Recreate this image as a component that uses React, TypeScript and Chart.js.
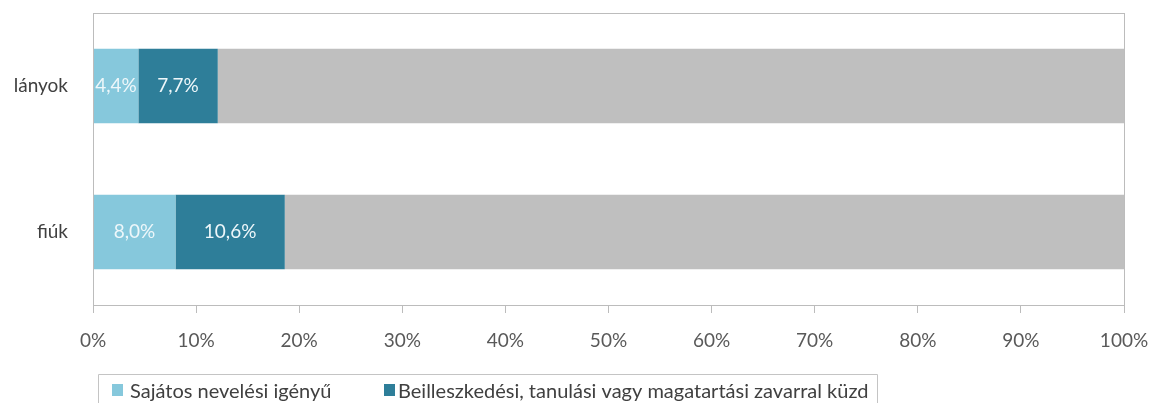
import React, { useEffect, useRef } from "react";
import { Chart, registerables } from "chart.js";

Chart.register(...registerables);

const categories = ["lányok", "fiúk"];
const seriesNames = [
  "Sajátos nevelési igényű",
  "Beilleszkedési, tanulási vagy magatartási zavarral küzd",
];
const sniValues = [4.4, 8.0];
const btmValues = [7.7, 10.6];
const restValues = [87.9, 81.4];
const xTickValues = [0, 10, 20, 30, 40, 50, 60, 70, 80, 90, 100];

const COLORS = ["#86c8dc", "#2e7e99", "#bfbfbf"];
const FONT = "Lato, 'Open Sans', sans-serif";
const FS = 19;
const LEGEND_FS = 20;

const fmt = (v: number) => v.toFixed(1).replace(".", ",") + "%";

const zeroPad = (scale: any) => {
  scale.paddingTop = 0;
  scale.paddingBottom = 0;
  scale.paddingLeft = 0;
  scale.paddingRight = 0;
};

const plotBorder = {
  id: "plotBorder",
  afterDatasetsDraw(chart: any) {
    const { ctx, chartArea } = chart;
    ctx.save();
    ctx.strokeStyle = "#bcbcbc";
    ctx.lineWidth = 1;
    ctx.strokeRect(
      Math.round(chartArea.left) + 0.5,
      Math.round(chartArea.top) + 0.5,
      Math.round(chartArea.right - chartArea.left),
      Math.round(chartArea.bottom - chartArea.top)
    );
    ctx.restore();
  },
};

const dataLabels = {
  id: "dataLabels",
  afterDatasetsDraw(chart: any) {
    const { ctx } = chart;
    ctx.save();
    ctx.font = `${FS}px ${FONT}`;
    ctx.fillStyle = "#eef7fa";
    ctx.textAlign = "center";
    ctx.textBaseline = "middle";
    [0, 1].forEach((di) => {
      const meta = chart.getDatasetMeta(di);
      const ds = chart.data.datasets[di];
      meta.data.forEach((el: any, i: number) => {
        const cx = (el.x + el.base) / 2;
        ctx.fillText(fmt(ds.data[i] as number), cx, el.y);
      });
    });
    ctx.restore();
  },
};

const customLegend = {
  id: "customLegend",
  afterDraw(chart: any) {
    const { ctx } = chart;
    const h = chart.height;
    ctx.save();
    ctx.strokeStyle = "#c4c4c4";
    ctx.lineWidth = 1;
    const left = 98.5;
    const right = 877.5;
    const top = 374.5;
    ctx.beginPath();
    ctx.moveTo(left, h + 2);
    ctx.lineTo(left, top);
    ctx.lineTo(right, top);
    ctx.lineTo(right, h + 2);
    ctx.stroke();
    ctx.font = `${LEGEND_FS}px ${FONT}`;
    ctx.textBaseline = "middle";
    ctx.textAlign = "left";
    const boxX = [112, 384];
    const textX = [130, 398];
    seriesNames.forEach((name, i) => {
      ctx.fillStyle = COLORS[i];
      ctx.fillRect(boxX[i], 384, 11, 12);
      ctx.fillStyle = "#404040";
      ctx.fillText(name, textX[i], 392);
    });
    ctx.restore();
  },
};

export default function App() {
  const ref = useRef<HTMLCanvasElement | null>(null);
  useEffect(() => {
    if (!ref.current) return;
    const chart = new Chart(ref.current, {
      type: "bar",
      data: {
        labels: categories,
        datasets: [
          { label: seriesNames[0], data: sniValues, backgroundColor: COLORS[0] },
          { label: seriesNames[1], data: btmValues, backgroundColor: COLORS[1] },
          { label: "egyéb", data: restValues, backgroundColor: COLORS[2] },
        ],
      },
      options: {
        indexAxis: "y",
        responsive: false,
        animation: false,
        devicePixelRatio: 1,
        layout: { padding: { left: 0, top: 13, right: 26, bottom: 0 } },
        datasets: { bar: { categoryPercentage: 0.51, barPercentage: 1 } },
        plugins: {
          legend: { display: false },
          tooltip: { enabled: false },
        },
        scales: {
          x: {
            stacked: true,
            min: 0,
            max: 100,
            afterBuildTicks: (scale: any) => {
              scale.ticks = xTickValues.map((v) => ({ value: v }));
            },
            afterFit: (scale: any) => {
              scale.height = 98;
              zeroPad(scale);
            },
            grid: {
              display: true,
              drawOnChartArea: false,
              drawTicks: true,
              tickLength: 8,
              color: "#bcbcbc",
            },
            border: { display: true, color: "#bcbcbc" },
            ticks: {
              padding: 16,
              maxRotation: 0,
              color: "#595959",
              font: { family: FONT, size: FS },
              callback: (v: any) => v + "%",
            },
          },
          y: {
            stacked: true,
            afterFit: (scale: any) => {
              scale.width = 93;
              zeroPad(scale);
            },
            grid: { display: false, drawTicks: false },
            border: { display: true, color: "#bcbcbc" },
            ticks: {
              padding: 25,
              color: "#404040",
              font: { family: FONT, size: FS },
            },
          },
        },
      },
      plugins: [plotBorder, dataLabels, customLegend],
    });
    return () => chart.destroy();
  }, []);
  return (
    <div style={{ position: "absolute", left: 0, top: 0, width: 1150, height: 403, background: "#fff" }}>
      <canvas ref={ref} width={1150} height={403} style={{ display: "block" }} />
    </div>
  );
}
